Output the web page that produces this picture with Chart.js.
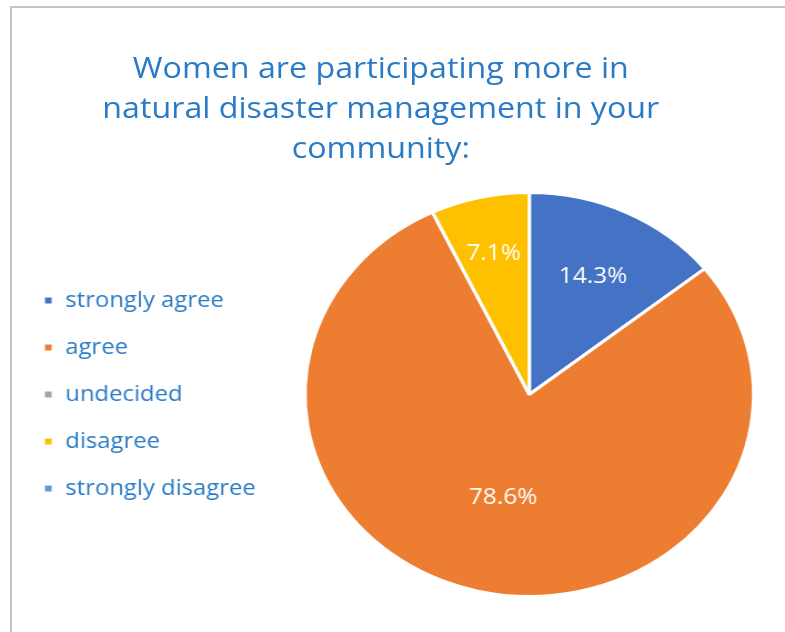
<!DOCTYPE html>
<html>
<head>
<meta charset="utf-8">
<script src="https://cdn.jsdelivr.net/npm/chart.js@4/dist/chart.umd.min.js"></script>
<style>
  html, body { margin:0; padding:0; background:#fff; overflow:hidden; width:785px; height:632px; }
  #frame { position:absolute; left:10px; top:6px; width:800px; height:640px;
           border-left:2px solid #c4c4c4; border-top:2px solid #c4c4c4; }
  #stretch { position:absolute; left:0; top:0; width:721px; height:632px;
             transform:scaleX(1.1103); transform-origin:0 0; }
  #wrap { position:absolute; left:0; top:0; width:713px; height:632px; }
  #title { position:absolute; left:0; top:47px; width:686px; text-align:center;
           font-family:'Open Sans', sans-serif; font-size:29px; line-height:40px; color:#2A7BC6; }
</style>
</head>
<body>
<div id="frame"></div>
<div id="stretch">
  <div id="wrap"><canvas id="c"></canvas></div>
  <div id="title"></div>
</div>
<script>
const titleLines = ['Women are participating more in', 'natural disaster management in your', 'community:'];
const categories = ['strongly agree', 'agree', 'undecided', 'disagree', 'strongly disagree'];
const percentages = [14.3, 78.6, 0, 7.1, 0];
const sliceColors = ['#4472C4', '#ED7D31', '#A5A5A5', '#FFC000', '#5B9BD5'];

const titleEl = document.getElementById('title');
titleLines.forEach(t => { const d = document.createElement('div'); d.textContent = t; titleEl.appendChild(d); });

const labelRadius = [0.655, 0.52, 0.6, 0.72, 0.6];
const pctLabels = {
  id: 'pctLabels',
  afterDatasetsDraw(chart) {
    const ctx = chart.ctx;
    const meta = chart.getDatasetMeta(0);
    const data = chart.data.datasets[0].data;
    ctx.save();
    ctx.fillStyle = '#ffffff';
    ctx.font = "22px 'Open Sans'";
    ctx.textAlign = 'center';
    ctx.textBaseline = 'middle';
    meta.data.forEach((arc, i) => {
      const v = data[i];
      if (!v) return;
      const p = arc.getProps(['x', 'y', 'startAngle', 'endAngle', 'outerRadius'], true);
      const a = (p.startAngle + p.endAngle) / 2;
      const r = p.outerRadius * labelRadius[i];
      ctx.fillText(v.toFixed(1) + '%', p.x + Math.cos(a) * r, p.y + Math.sin(a) * r + 1);
    });
    ctx.restore();
  }
};

new Chart(document.getElementById('c'), {
  type: 'pie',
  data: {
    labels: categories,
    datasets: [{
      data: percentages,
      backgroundColor: sliceColors,
      borderColor: '#ffffff',
      borderWidth: 3,
      hoverOffset: 0
    }]
  },
  options: {
    responsive: true,
    maintainAspectRatio: false,
    animation: false,
    layout: { padding: { left: 13.5, right: 0, top: 191, bottom: 34 } },
    plugins: {
      title: { display: false },
      tooltip: { enabled: false },
      legend: {
        position: 'left',
        labels: {
          boxWidth: 9,
          boxHeight: 9,
          padding: 25.5,
          color: '#2A7BC6',
          font: { family: "'Open Sans'", size: 21.5 }
        }
      }
    }
  },
  plugins: [pctLabels]
});
</script>
</body>
</html>
